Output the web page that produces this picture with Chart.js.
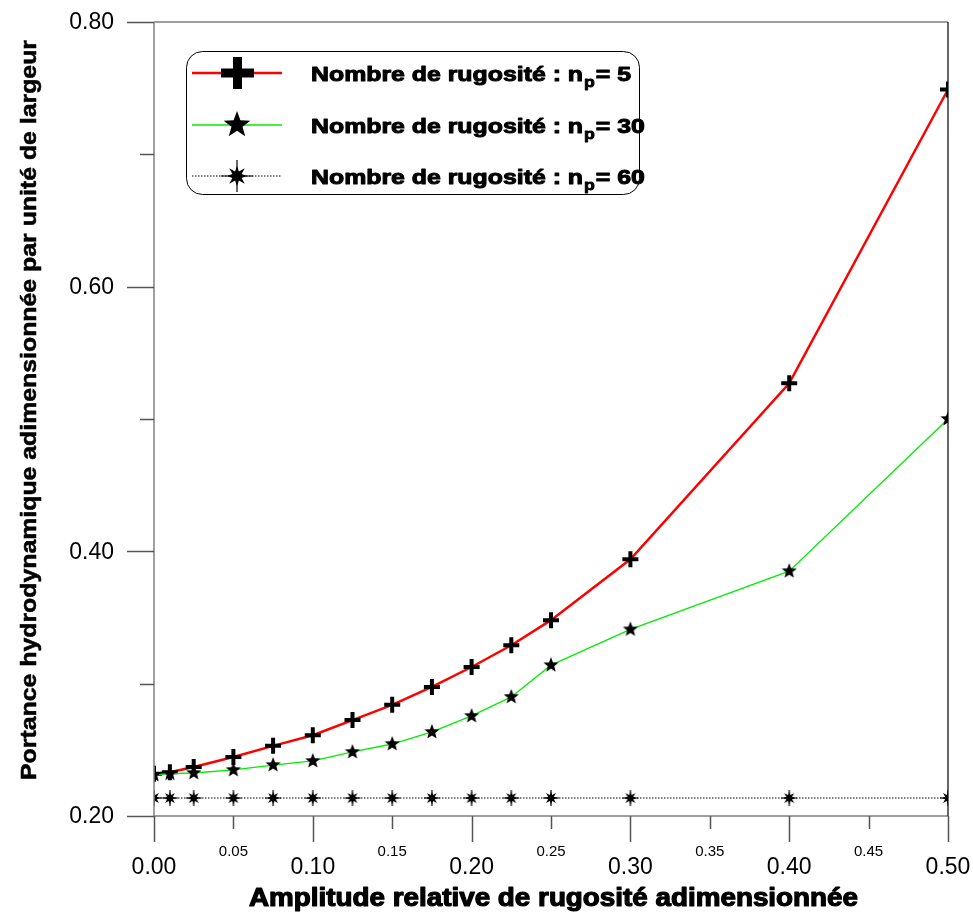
<!DOCTYPE html>
<html>
<head>
<meta charset="utf-8">
<script src="https://cdn.jsdelivr.net/npm/chart.js@4.4.1/dist/chart.umd.min.js"></script>
<style>
  html, body { margin: 0; padding: 0; background: #fff; }
  #wrap { width: 973px; height: 913px; position: relative; }
</style>
</head>
<body>
<div id="wrap"><canvas id="portance-chart" width="973" height="913"></canvas></div>
<script>
// amplitude relative de rugosité (axe x)
const amplitudes = [0, 0.01, 0.025, 0.05, 0.075, 0.1, 0.125, 0.15, 0.175, 0.2, 0.225, 0.25, 0.3, 0.4, 0.5];

// portance pour chaque nombre de rugosité
const portanceNp5 = [0.232, 0.233, 0.237, 0.2446, 0.253, 0.261, 0.2725, 0.284, 0.2975, 0.3126, 0.329, 0.348, 0.394, 0.527, 0.749];
const portanceNp30 = [0.231, 0.232, 0.2325, 0.2348, 0.2385, 0.2416, 0.2484, 0.2544, 0.2635, 0.2756, 0.290, 0.314, 0.341, 0.385, 0.500];
const portanceNp60 = [0.2136, 0.2136, 0.2136, 0.2136, 0.2136, 0.2136, 0.2136, 0.2136, 0.2136, 0.2136, 0.2136, 0.2136, 0.2136, 0.2136, 0.2136];

const seriesLabels = ['5', '30', '60'];

// graduations
const xMajorTicks = [0, 0.1, 0.2, 0.3, 0.4, 0.5];
const xMinorTicks = [0.05, 0.15, 0.25, 0.35, 0.45];
const yMajorTicks = [0.2, 0.4, 0.6, 0.8];
const yMinorTicks = [0.3, 0.5, 0.7];

const xTitle = 'Amplitude relative de rugosité adimensionnée';
const yTitle = 'Portance hydrodynamique adimensionnée par unité de largeur';

// marqueurs dessinés sur de petits canvas
function starCanvas(size, outer, inner) {
    const c = document.createElement('canvas');
    c.width = c.height = size;
    const g = c.getContext('2d');
    const m = size / 2;
    g.beginPath();
    for (let i = 0; i < 10; i++) {
        const r = i % 2 === 0 ? outer : inner;
        const a = -Math.PI / 2 + i * Math.PI / 5;
        const px = m + r * Math.cos(a), py = m + r * Math.sin(a);
        i === 0 ? g.moveTo(px, py) : g.lineTo(px, py);
    }
    g.closePath();
    g.fillStyle = '#000';
    g.fill();
    return c;
}

function asteriskCanvas(size, spike, body) {
    const c = document.createElement('canvas');
    c.width = c.height = size;
    const g = c.getContext('2d');
    const m = size / 2;
    g.beginPath();
    for (let i = 0; i < 16; i++) {
        const a = -Math.PI / 2 + i * Math.PI / 8;
        let r;
        if (i % 2 === 1) r = body * 0.45;
        else r = (i % 4 === 0) ? body * 0.9 : body;
        const px = m + r * Math.cos(a), py = m + r * Math.sin(a);
        i === 0 ? g.moveTo(px, py) : g.lineTo(px, py);
    }
    g.closePath();
    g.fillStyle = '#000';
    g.fill();
    g.strokeStyle = '#000';
    g.lineWidth = 1.2;
    g.beginPath();
    g.moveTo(m, m - spike); g.lineTo(m, m + spike);
    g.moveTo(m - spike, m); g.lineTo(m + spike, m);
    g.stroke();
    return c;
}

const starSmall = starCanvas(18, 8, 3.4);
const starBig = starCanvas(30, 14, 5.8);
const asterSmall = asteriskCanvas(18, 8, 7);
const asterBig = asteriskCanvas(34, 16, 11);

function toPoints(values) {
    return amplitudes.map((x, i) => ({ x: x, y: values[i] }));
}

const frameFont = '"Liberation Sans", Arial, sans-serif';

// texte gras élargi horizontalement d'un facteur k ; renvoie la largeur dessinée
function heavyText(ctx, text, x, y, k, stroke) {
    ctx.save();
    ctx.translate(x, y);
    ctx.scale(k, 1);
    ctx.lineWidth = stroke / k;
    ctx.lineJoin = 'round';
    ctx.fillText(text, 0, 0);
    ctx.strokeText(text, 0, 0);
    ctx.restore();
    return ctx.measureText(text).width * k;
}

// axes, graduations, titres et légende
const axesPlugin = {
    id: 'axesPlugin',
    afterDatasetsDraw(chart) {
        const ctx = chart.ctx;
        const xs = chart.scales.x, ys = chart.scales.y;
        const a = chart.chartArea;
        ctx.save();

        // cadre : gauche, bas et haut en gris, droite en noir
        ctx.lineWidth = 1.5;
        ctx.strokeStyle = '#808080';
        ctx.beginPath();
        ctx.moveTo(a.left, a.top); ctx.lineTo(a.left, a.bottom);
        ctx.moveTo(a.left, a.bottom); ctx.lineTo(a.right, a.bottom);
        ctx.moveTo(a.left, a.top); ctx.lineTo(a.right, a.top);
        ctx.stroke();
        ctx.strokeStyle = '#000';
        ctx.lineWidth = 1.2;
        ctx.beginPath();
        ctx.moveTo(a.right, a.top); ctx.lineTo(a.right, a.bottom);
        ctx.stroke();

        // graduations x
        ctx.strokeStyle = '#555';
        ctx.lineWidth = 1.5;
        ctx.beginPath();
        xMajorTicks.forEach(v => {
            const px = Math.round(xs.getPixelForValue(v)) + 0.5;
            ctx.moveTo(px, a.bottom); ctx.lineTo(px, a.bottom + 26);
        });
        xMinorTicks.forEach(v => {
            const px = Math.round(xs.getPixelForValue(v)) + 0.5;
            ctx.moveTo(px, a.bottom); ctx.lineTo(px, a.bottom + 13);
        });
        // graduations y
        yMajorTicks.forEach(v => {
            const py = Math.round(ys.getPixelForValue(v)) + 0.5;
            ctx.moveTo(a.left, py); ctx.lineTo(a.left - 27, py);
        });
        yMinorTicks.forEach(v => {
            const py = Math.round(ys.getPixelForValue(v)) + 0.5;
            ctx.moveTo(a.left, py); ctx.lineTo(a.left - 14, py);
        });
        ctx.stroke();

        // libellés des graduations
        ctx.fillStyle = '#000';
        ctx.textAlign = 'center';
        ctx.textBaseline = 'middle';
        ctx.font = '23px ' + frameFont;
        xMajorTicks.forEach(v => {
            ctx.fillText(v.toFixed(2), xs.getPixelForValue(v), a.bottom + 52);
        });
        ctx.font = '15px ' + frameFont;
        xMinorTicks.forEach(v => {
            ctx.fillText(v.toFixed(2), xs.getPixelForValue(v), a.bottom + 36);
        });
        ctx.font = '23px ' + frameFont;
        ctx.textAlign = 'right';
        yMajorTicks.forEach(v => {
            ctx.fillText(v.toFixed(2), a.left - 40, ys.getPixelForValue(v) + 1);
        });

        // titres
        ctx.strokeStyle = '#000';
        ctx.textAlign = 'left';
        ctx.textBaseline = 'alphabetic';
        ctx.font = 'bold 26px ' + frameFont;
        const kx = 609 / ctx.measureText(xTitle).width;
        heavyText(ctx, xTitle, 249, 906, kx, 1.3);

        ctx.save();
        ctx.translate(36, 780);
        ctx.rotate(-Math.PI / 2);
        ctx.font = 'bold 22px ' + frameFont;
        const ky = 740 / ctx.measureText(yTitle).width;
        heavyText(ctx, yTitle, 0, 0, ky, 0.6);
        ctx.restore();

        // légende
        const bx = 186.5, by = 51.5, bw = 453, bh = 143, rr = 16;
        ctx.fillStyle = '#fff';
        ctx.strokeStyle = '#000';
        ctx.lineWidth = 1;
        ctx.beginPath();
        ctx.roundRect(bx, by, bw, bh, rr);
        ctx.fill();
        ctx.stroke();

        const rows = [73, 125, 176];
        chart.data.datasets.forEach((ds, i) => {
            const ry = rows[i];
            ctx.save();
            ctx.strokeStyle = ds.borderColor;
            ctx.lineWidth = ds.borderWidth;
            ctx.setLineDash(ds.borderDash || []);
            ctx.beginPath();
            ctx.moveTo(192, ry); ctx.lineTo(282, ry);
            ctx.stroke();
            ctx.restore();
            if (i === 0) {
                ctx.fillStyle = '#000';
                ctx.fillRect(233, ry - 16, 9, 32);
                ctx.fillRect(221, ry - 4.5, 33, 9);
            } else if (i === 1) {
                ctx.drawImage(starBig, 237 - 15, ry - 15);
            } else {
                ctx.drawImage(asterBig, 237 - 17, ry - 17);
            }
            // texte avec indice p
            ctx.fillStyle = '#000';
            ctx.strokeStyle = '#000';
            ctx.textAlign = 'left';
            ctx.textBaseline = 'alphabetic';
            const base = ry + 8;
            const t1 = 'Nombre de rugosité : n';
            ctx.font = 'bold 21px ' + frameFont;
            const kl = 272 / ctx.measureText(t1).width;
            let tx = 311;
            tx += heavyText(ctx, t1, tx, base, kl, 1.2);
            ctx.font = 'bold 15px ' + frameFont;
            tx += heavyText(ctx, 'p', tx + 1, base + 6, kl, 0.9) + 2;
            ctx.font = 'bold 21px ' + frameFont;
            heavyText(ctx, '= ' + seriesLabels[i], tx, base, kl, 1.2);
        });

        ctx.restore();
    }
};

new Chart(document.getElementById('portance-chart'), {
    type: 'line',
    data: {
        datasets: [{
            label: 'np = 5',
            data: toPoints(portanceNp5),
            borderColor: '#ff0000',
            borderWidth: 2.5,
            pointStyle: 'cross',
            pointRadius: 8,
            pointBorderWidth: 4,
            pointBorderColor: '#000',
            pointBackgroundColor: '#000',
            order: 2
        }, {
            label: 'np = 30',
            data: toPoints(portanceNp30),
            borderColor: '#00ee00',
            borderWidth: 1.3,
            pointStyle: starSmall,
            order: 1
        }, {
            label: 'np = 60',
            data: toPoints(portanceNp60),
            borderColor: '#000',
            borderWidth: 1,
            borderDash: [1.5, 1.5],
            pointStyle: asterSmall,
            order: 0
        }]
    },
    options: {
        responsive: false,
        animation: false,
        layout: { padding: { left: 154, top: 22, right: 25, bottom: 97 } },
        elements: { line: { tension: 0 } },
        scales: {
            x: { type: 'linear', min: 0, max: 0.5, display: false },
            y: { type: 'linear', min: 0.2, max: 0.8, display: false }
        },
        plugins: {
            legend: { display: false },
            tooltip: { enabled: false }
        }
    },
    plugins: [axesPlugin]
});
</script>
</body>
</html>
